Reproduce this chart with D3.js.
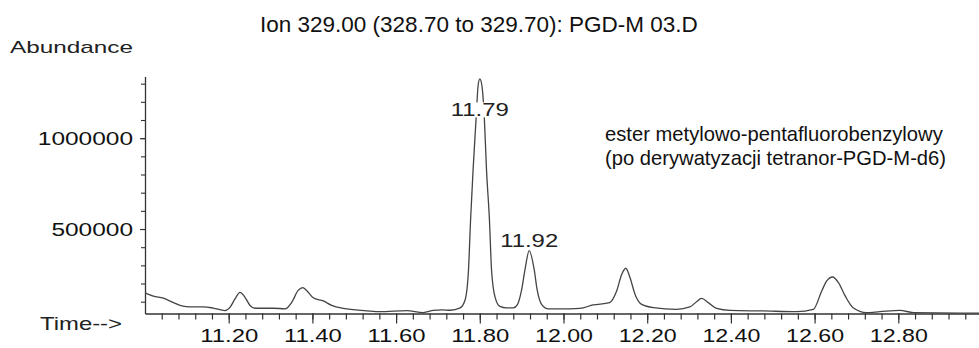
<!DOCTYPE html>
<html><head><meta charset="utf-8">
<script src="https://cdn.jsdelivr.net/npm/d3@7"></script>
<style>
body{margin:0;background:#fff}
svg{font-family:"Liberation Sans",Arial,sans-serif}
</style>
</head><body>
<svg id="chart" width="979" height="348"></svg>
<script>
// ---- data ----
const retentionTimes = [
  11.000, 11.020, 11.044, 11.068, 11.088, 11.108, 11.139, 11.163, 11.191, 11.203,
  11.215, 11.227, 11.239, 11.251, 11.263, 11.307, 11.335, 11.351, 11.366, 11.377,
  11.386, 11.402, 11.426, 11.446, 11.474, 11.530, 11.562, 11.625, 11.665, 11.689,
  11.710, 11.729, 11.753, 11.765, 11.773, 11.778, 11.784, 11.791, 11.796, 11.800,
  11.805, 11.811, 11.816, 11.823, 11.828, 11.836, 11.848, 11.864, 11.880, 11.890,
  11.900, 11.908, 11.918, 11.930, 11.937, 11.948, 11.964, 11.992, 12.039, 12.071,
  12.110, 12.127, 12.139, 12.149, 12.159, 12.171, 12.187, 12.215, 12.270, 12.302,
  12.318, 12.330, 12.346, 12.366, 12.398, 12.477, 12.557, 12.597, 12.617, 12.629,
  12.643, 12.657, 12.673, 12.692, 12.724, 12.756, 12.804, 12.836, 12.993
];
const abundance = [
  149000, 131000, 119000, 95000, 77000, 72000, 72000, 65000, 51000, 69000,
  115000, 151000, 124000, 79000, 64000, 64000, 61000, 98000, 162000, 177000,
  162000, 122000, 104000, 80000, 63000, 50000, 45000, 51000, 40000, 52000,
  55000, 53000, 66000, 111000, 276000, 552000, 827000, 1102000, 1290000, 1326000,
  1290000, 1102000, 827000, 552000, 276000, 129000, 74000, 66000, 66000, 84000,
  166000, 276000, 381000, 276000, 166000, 84000, 60000, 60000, 63000, 82000,
  95000, 159000, 250000, 284000, 232000, 140000, 85000, 67000, 58000, 71000,
  100000, 118000, 95000, 63000, 52000, 49000, 45000, 58000, 159000, 214000,
  236000, 205000, 132000, 67000, 40000, 45000, 52000, 40000, 37000
];
const peakLabels = ["11.79", "11.92"];
const peakTimes = [11.79, 11.92];
const xTickLabels = ["11.20","11.40","11.60","11.80","12.00","12.20","12.40","12.60","12.80"];
const yTickLabels = ["500000","1000000"];
const yMinorTicks = [100000,200000,300000,400000,500000,600000,700000,800000,900000,1000000,1100000,1200000,1300000];
const titleText = "Ion 329.00 (328.70 to 329.70): PGD-M 03.D";
const annotationLines = ["ester metylowo-pentafluorobenzylowy", "(po derywatyzacji tetranor-PGD-M-d6)"];

// ---- layout ----
const svg = d3.select("#chart");
const x = d3.scaleLinear().domain([11.0, 13.0]).range([145, 982]);
const y = d3.scaleLinear().domain([35000, 1340000]).range([313.5, 76.4]);
const ink = "#111", lineInk = "#444";

// x axis minor ticks
const xMinor = d3.range(1, 50).map(i => +(11 + i * 0.04).toFixed(2));
const gxMinor = svg.append("g").attr("transform", `translate(0,${y.range()[0]})`)
  .call(d3.axisBottom(x).tickValues(xMinor).tickSize(6).tickSizeOuter(0).tickFormat(""));
const gxMajor = svg.append("g").attr("transform", `translate(0,${y.range()[0]})`)
  .call(d3.axisBottom(x).tickValues(xTickLabels.map(Number)).tickSize(10).tickSizeOuter(0)
    .tickPadding(5).tickFormat((d, i) => xTickLabels[i]));
gxMajor.select(".domain").remove();
gxMinor.select(".domain").attr("stroke", "#333").attr("stroke-width", 1.3);
[gxMinor, gxMajor].forEach(g => g.selectAll(".tick line").attr("stroke", "#333").attr("stroke-width", 1.2));
gxMajor.selectAll(".tick text")
  .attr("font-size", 19).attr("fill", ink)
  .attr("font-family", '"Liberation Sans",Arial,sans-serif')
  .attr("textLength", 58).attr("lengthAdjust", "spacingAndGlyphs");

// y axis
const gyMinor = svg.append("g").attr("transform", `translate(${x.range()[0]},0)`)
  .call(d3.axisLeft(y).tickValues(yMinorTicks).tickSize(4).tickSizeOuter(0).tickFormat(""));
gyMinor.select(".domain").attr("stroke", "#333").attr("stroke-width", 1.3);
gyMinor.selectAll(".tick line").attr("stroke", "#333").attr("stroke-width", 1.1);
const gyMajor = svg.append("g").attr("transform", `translate(${x.range()[0]},0)`)
  .call(d3.axisLeft(y).tickValues(yTickLabels.map(Number)).tickSize(5).tickSizeOuter(0)
    .tickPadding(7).tickFormat((d, i) => yTickLabels[i]));
gyMajor.select(".domain").remove();
gyMajor.selectAll(".tick line").attr("stroke", "#333").attr("stroke-width", 1.1);
gyMajor.selectAll(".tick text")
  .attr("font-size", 19).attr("fill", ink)
  .attr("font-family", '"Liberation Sans",Arial,sans-serif')
  .attr("textLength", d => String(d).length * 13.6).attr("lengthAdjust", "spacingAndGlyphs");

// trace
const pts = retentionTimes.map((t, i) => [t, abundance[i]]);
svg.append("path").datum(pts)
  .attr("fill", "none").attr("stroke", lineInk).attr("stroke-width", 1.3)
  .attr("d", d3.line().x(d => x(d[0])).y(d => y(d[1])).curve(d3.curveMonotoneX));

// peak labels
peakLabels.forEach((lab, i) => {
  const near = pts.filter(p => Math.abs(p[0] - peakTimes[i]) < 0.03);
  const apex = near.reduce((a, b) => (b[1] > a[1] ? b : a));
  const bx = x(apex[0]);
  const by = Math.max(y(apex[1]) - 4, y.range()[1] + 40);
  svg.append("rect").attr("x", bx - 30).attr("y", by - 14).attr("width", 60).attr("height", 15).attr("fill", "#fff");
  svg.append("text").attr("x", bx).attr("y", by).attr("text-anchor", "middle")
    .attr("font-size", 19).attr("fill", "#222")
    .attr("textLength", 58).attr("lengthAdjust", "spacingAndGlyphs").text(lab);
});

// texts
svg.append("text").attr("x", 260).attr("y", 32).attr("font-size", 22.5).attr("fill", ink).text(titleText);
svg.append("text").attr("x", 10).attr("y", 53).attr("font-size", 17).attr("fill", "#222")
  .attr("textLength", 123).attr("lengthAdjust", "spacingAndGlyphs").text("Abundance");
svg.append("text").attr("x", 40).attr("y", 330).attr("font-size", 18.5).attr("fill", "#222")
  .attr("textLength", 82).attr("lengthAdjust", "spacingAndGlyphs").text("Time-->");
annotationLines.forEach((l, i) => {
  svg.append("text").attr("x", 605).attr("y", 141 + i * 24).attr("font-size", 20.2).attr("fill", ink).text(l);
});
</script>
</body></html>
